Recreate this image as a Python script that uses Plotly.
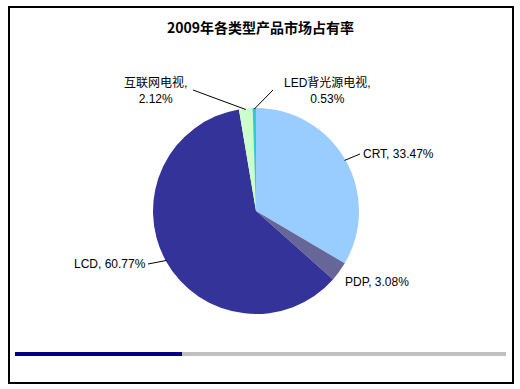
import math
import plotly.graph_objects as go

W, H = 520, 389

categories = ["CRT", "PDP", "LCD", "互联网电视", "LED背光源电视"]
shares = [33.47, 3.08, 60.77, 2.12, 0.53]
colors = ["#99CCFF", "#666699", "#333399", "#CCFFCC", "#33CCCC"]
title_text = "2009年各类型产品市场占有率"

# pie geometry (pixels)
CX, CY, R = 256, 211, 103


def px(x, y):
    return x / W, 1 - y / H


def edge_point(idx, rfrac=1.0):
    total = sum(shares)
    start = sum(shares[:idx]) / total * 360
    mid = start + shares[idx] / total * 360 / 2
    a = math.radians(mid)
    return CX + R * rfrac * math.sin(a), CY - R * rfrac * math.cos(a)


fig = go.Figure()
fig.add_trace(go.Pie(
    labels=categories, values=shares, sort=False, direction="clockwise",
    rotation=0, textinfo="none", hoverinfo="label+percent",
    marker=dict(colors=colors, line=dict(width=0)),
    domain=dict(x=[(CX - R) / W, (CX + R) / W],
                y=[1 - (CY + R) / H, 1 - (CY - R) / H]),
    showlegend=False,
))

FONT = "Liberation Sans, Arial, Noto Sans CJK SC, sans-serif"

# label placements: (text position px, anchor, leader end px)
label_layout = {
    0: dict(pos=(361, 154), xanchor="left", end=(360, 154)),
    1: dict(pos=(343, 282), xanchor="left", end=None),
    2: dict(pos=(148, 264), xanchor="right", end=(148, 264)),
    3: dict(pos=(155, 91), xanchor="center", end=(193, 90)),
    4: dict(pos=(327, 91), xanchor="center", end=(273, 90)),
}

annotations = []
shapes = []
for i, (cat, val) in enumerate(zip(categories, shares)):
    lay = label_layout[i]
    if i >= 3:
        txt = f"{cat},<br>{val:.2f}%"
    else:
        txt = f"{cat}, {val:.2f}%"
    x, y = px(*lay["pos"])
    annotations.append(dict(
        x=x, y=y, xref="paper", yref="paper", text=txt, showarrow=False,
        xanchor=lay["xanchor"], yanchor="middle", align="center",
        font=dict(family=FONT, size=12, color="#000000"),
    ))
    if lay["end"] is not None:
        ex, ey = edge_point(i, 0.99)
        x0, y0 = px(ex, ey)
        x1, y1 = px(*lay["end"])
        shapes.append(dict(type="line", xref="paper", yref="paper",
                           x0=x0, y0=y0, x1=x1, y1=y1,
                           line=dict(color="#000000", width=1)))

# title
tx, ty = px(260, 27)
annotations.append(dict(
    x=tx, y=ty, xref="paper", yref="paper", text=f"<b>{title_text}</b>",
    showarrow=False, xanchor="center", yanchor="middle",
    font=dict(family="Noto Sans CJK SC, sans-serif", size=14, color="#000000"),
))

# outer border
bx0, by0 = px(9, 383)
bx1, by1 = px(513, 7)
shapes.append(dict(type="rect", xref="paper", yref="paper",
                   x0=bx0, y0=by0, x1=bx1, y1=by1,
                   line=dict(color="#000000", width=2), fillcolor="rgba(0,0,0,0)"))

# bottom decorative bar
gx0, gy0 = px(182, 356)
gx1, gy1 = px(506, 352)
shapes.append(dict(type="rect", xref="paper", yref="paper",
                   x0=gx0, y0=gy0, x1=gx1, y1=gy1,
                   line=dict(width=0), fillcolor="#C0C0C0"))
nx0, ny0 = px(15, 356)
nx1, ny1 = px(182, 352)
shapes.append(dict(type="rect", xref="paper", yref="paper",
                   x0=nx0, y0=ny0, x1=nx1, y1=ny1,
                   line=dict(width=0), fillcolor="#000080"))

fig.update_layout(
    width=W, height=H,
    margin=dict(l=0, r=0, t=0, b=0),
    paper_bgcolor="#FFFFFF", plot_bgcolor="#FFFFFF",
    annotations=annotations, shapes=shapes,
)

fig.write_html("out.html", config={"displayModeBar": False},
               post_script="document.body.style.margin='0';document.body.style.overflow='hidden';")
